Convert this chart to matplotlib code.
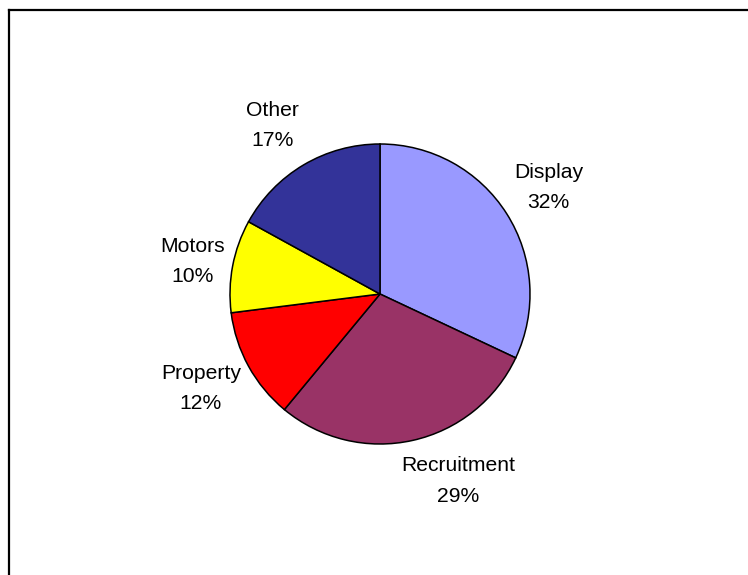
import matplotlib
matplotlib.use("Agg")
import matplotlib.pyplot as plt
import numpy as np

plt.rcParams['font.family'] = ['Liberation Sans', 'DejaVu Sans']

categories = ["Display", "Recruitment", "Property", "Motors", "Other"]
shares = [32, 29, 12, 10, 17]
colors = ["#9999FF", "#993366", "#FF0000", "#FFFF00", "#333399"]

W, H = 748, 575
fig = plt.figure(figsize=(W / 100, H / 100), dpi=100)
ax = fig.add_axes([0, 0, 1, 1])

cx, cy, r = 380, H - 294, 150
wedges, _ = ax.pie(shares, colors=colors, startangle=90, counterclock=False,
                   center=(cx, cy), radius=r, frame=True,
                   wedgeprops=dict(edgecolor="black", linewidth=1.1))
ax.set_xlim(0, W)
ax.set_ylim(0, H)
ax.set_aspect("equal")
ax.axis("off")

# label placement: (distance in radii, angle tweak in degrees)
label_place = [(1.33, 0), (1.35, 10), (1.35, -1), (1.27, 1), (1.33, 2)]
for w, cat, val, (d, dt) in zip(wedges, categories, shares, label_place):
    mid = np.deg2rad((w.theta1 + w.theta2) / 2 + dt)
    x = cx + d * r * np.cos(mid)
    y = cy + d * r * np.sin(mid)
    ax.text(x, y, f"{cat}\n{val}%", ha="center", va="center",
            fontsize=15.2, linespacing=1.74, color="black")

# chart area frame (top and left edges)
fig.add_artist(plt.Line2D([9 / W, 1], [1 - 10 / H, 1 - 10 / H], color="black",
                          linewidth=1.6, transform=fig.transFigure))
fig.add_artist(plt.Line2D([9 / W, 9 / W], [1 - 10 / H, 0], color="black",
                          linewidth=1.6, transform=fig.transFigure))

fig.savefig("out.png", dpi=100, facecolor="white")
